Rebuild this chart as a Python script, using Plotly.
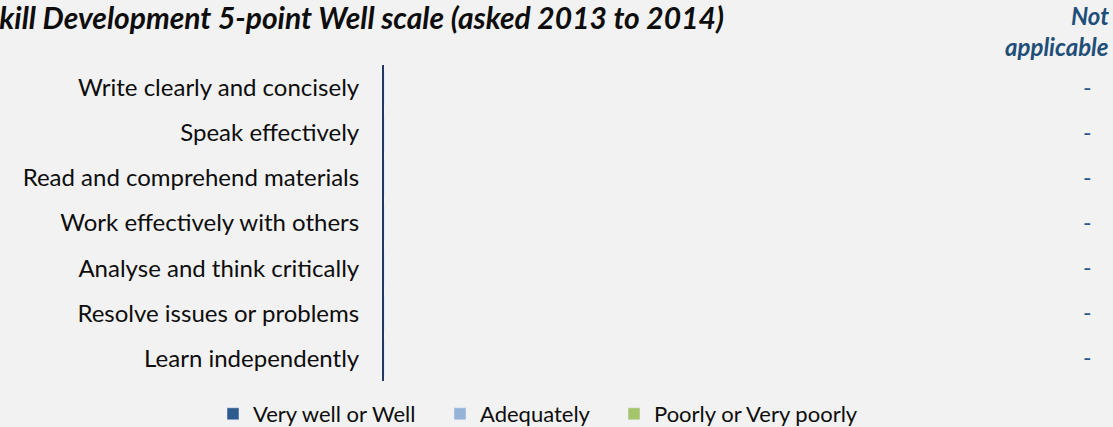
import plotly.graph_objects as go

categories = [
    "Write clearly and concisely",
    "Speak effectively",
    "Read and comprehend materials",
    "Work effectively with others",
    "Analyse and think critically",
    "Resolve issues or problems",
    "Learn independently",
]
series_names = ["Very well or Well", "Adequately", "Poorly or Very poorly"]
series_values = {
    "Very well or Well": [0, 0, 0, 0, 0, 0, 0],
    "Adequately": [0, 0, 0, 0, 0, 0, 0],
    "Poorly or Very poorly": [0, 0, 0, 0, 0, 0, 0],
}
not_applicable = ["-", "-", "-", "-", "-", "-", "-"]
title_text = "Skill Development 5-point Well scale (asked 2013 to 2014)"
na_header_lines = ["Not", "applicable"]

colors = {
    "Very well or Well": "#2E5B8E",
    "Adequately": "#95B3D7",
    "Poorly or Very poorly": "#A6C46C",
}
legend_left_px = [229, 456, 630]

W, H = 1113, 427
L, R, T, B = 384, 73, 65, 44
pw = W - L - R
ph = H - T - B
FONT = "Lato, Open Sans, sans-serif"

def px_x(p):
    return (p - L) / pw

def px_y(p):
    return (H - B - p) / ph

fig = go.Figure()
legend_ids = ["legend", "legend2", "legend3"]
for name, lid in zip(series_names, legend_ids):
    fig.add_trace(go.Bar(
        y=categories, x=series_values[name], name=name, orientation="h",
        marker=dict(color=colors[name]), legend=lid,
    ))

for cat, lab in zip(categories, not_applicable):
    fig.add_annotation(x=px_x(1087), xref="paper", y=cat, yref="y", text=lab,
                       showarrow=False, xanchor="center", yshift=1,
                       font=dict(family=FONT, size=23, color="#2A5888"))

fig.add_annotation(x=px_x(726), xref="paper", y=px_y(17), yref="paper", yanchor="middle",
                   text="<b><i>" + title_text + "</i></b>", showarrow=False,
                   xanchor="right", font=dict(family=FONT, size=30, color="#0d0d0d"))
for line, cy in zip(na_header_lines, [15, 46]):
    fig.add_annotation(x=px_x(1111), xref="paper", y=px_y(cy), yref="paper", yanchor="middle",
                       text="<b><i>" + line + "</i></b>", showarrow=False,
                       xanchor="right", align="right",
                       font=dict(family=FONT, size=24, color="#1F4E79"))

legend_style = dict(orientation="h", xref="container", yref="container",
                    xanchor="left", y=(H - 414) / H, yanchor="middle",
                    font=dict(family=FONT, size=22, color="#0d0d0d"),
                    itemwidth=30, bgcolor="rgba(0,0,0,0)")
legend_layouts = {}
for lid, lx in zip(legend_ids, legend_left_px):
    legend_layouts[lid] = dict(legend_style, x=(lx - 16) / W)

fig.update_layout(
    width=W, height=H,
    margin=dict(l=L, r=R, t=T, b=B),
    paper_bgcolor="#F2F2F2", plot_bgcolor="#F2F2F2",
    barmode="stack",
    showlegend=True,
    xaxis=dict(visible=False, range=[0, 100]),
    yaxis=dict(autorange="reversed", showline=True, linecolor="#1F3864", linewidth=2,
               ticks="", showgrid=False, zeroline=False, ticklabelstandoff=18,
               tickfont=dict(family=FONT, size=24, color="#0d0d0d")),
    font=dict(family=FONT),
    **legend_layouts,
)

fig.write_html("out.html", config={"displayModeBar": False},
               post_script="document.body.style.margin='0px';")
